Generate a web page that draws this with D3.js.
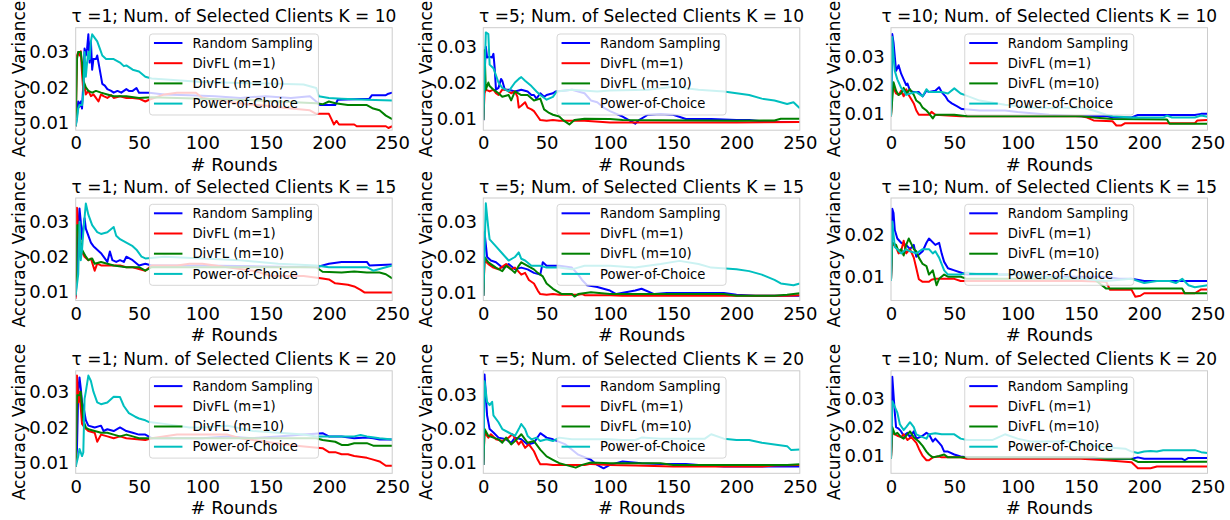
<!DOCTYPE html>
<html><head><meta charset="utf-8">
<script src="https://cdn.jsdelivr.net/npm/d3@7"></script>
<style>body{margin:0;background:#fff} text{font-family:"DejaVu Sans",sans-serif;fill:#000}</style>
</head><body><svg id="c" width="1230" height="520"></svg>
<script>
// ---------- labels ----------
const seriesNames = ["Random Sampling","DivFL (m=1)","DivFL (m=10)","Power-of-Choice"];
const taus = [1,5,10];
const ks = [10,15,20];
const xTicks = [0,50,100,150,200,250];
const yTicks = [0.01,0.02,0.03];
const xLabel = "# Rounds";
const yLabel = "Accuracy Variance";

// ---------- data: [round, accuracy variance] ----------
// tau=1, K=10
const t1k10_random = [[0,.009],[1,.012],[2,.016],[3,.0145],[4,.016],[5,.014],[6,.021],[7,.031],[8,.029],[9,.031],[10,.035],[11,.027],[12,.033],[13,.025],[14,.028],[16,.028],[17,.029],[19,.025],[21,.021],[23,.0205],[25,.0195],[28,.019],[30,.0185],[33,.019],[36,.0185],[40,.0195],[42,.019],[45,.019],[48,.0198],[50,.0185],[58,.0185],[70,.018],[90,.0178],[110,.0175],[130,.017],[150,.0175],[170,.017],[185,.0175],[190,.016],[193,.015],[205,.015],[207,.0165],[232,.0168],[234,.0178],[245,.0178],[247,.0182],[250,.0185]];
const t1k10_divfl1 = [[0,.009],[1,.029],[2,.030],[3,.029],[4,.0302],[5,.024],[6,.019],[7,.0205],[8,.018],[10,.019],[12,.0175],[14,.018],[16,.017],[18,.016],[20,.018],[22,.0175],[25,.017],[28,.0178],[30,.017],[35,.0175],[40,.017],[45,.017],[50,.0168],[55,.016],[58,.0165],[70,.018],[80,.0185],[95,.0185],[100,.017],[120,.016],[135,.0152],[150,.0148],[170,.014],[185,.0135],[190,.0125],[200,.0125],[202,.011],[204,.0095],[206,.0105],[208,.0095],[220,.0095],[222,.009],[245,.009],[247,.0085],[250,.009]];
const t1k10_divfl10 = [[0,.009],[1,.028],[2,.030],[4,.030],[5,.027],[6,.022],[7,.021],[8,.020],[10,.019],[13,.0185],[16,.019],[20,.0185],[25,.018],[30,.0175],[40,.0175],[50,.017],[60,.0172],[80,.017],[100,.0168],[130,.0165],[160,.016],[190,.0155],[195,.0152],[200,.016],[205,.0155],[215,.015],[230,.015],[235,.014],[240,.0135],[245,.012],[250,.011]];
const t1k10_poc = [[0,.009],[1,.011],[2,.014],[3,.015],[5,.015],[6,.018],[7,.030],[8,.023],[9,.027],[10,.030],[11,.028],[12,.033],[13,.035],[15,.034],[17,.033],[19,.031],[21,.029],[24,.028],[30,.028],[35,.027],[38,.026],[40,.0262],[45,.025],[50,.0245],[55,.023],[60,.0225],[80,.022],[100,.0215],[130,.0212],[160,.021],[180,.0208],[190,.0198],[192,.0175],[200,.017],[210,.0168],[230,.0165],[250,.0163]];
// tau=5, K=10
const t5k10_random = [[0,.0095],[1,.022],[2,.030],[3,.027],[5,.0272],[7,.027],[8,.028],[9,.024],[10,.018],[12,.0185],[14,.021],[15,.0205],[17,.018],[20,.018],[25,.0175],[30,.018],[35,.0175],[38,.0165],[40,.0165],[42,.0155],[45,.017],[48,.016],[50,.0165],[55,.017],[57,.0175],[65,.0178],[70,.018],[80,.017],[85,.015],[90,.0145],[95,.013],[100,.012],[110,.0105],[120,.0085],[123,.0095],[130,.011],[140,.0112],[150,.011],[160,.0098],[180,.0098],[200,.0095],[210,.0095],[225,.009],[250,.009]];
const t5k10_divfl1 = [[0,.0095],[1,.017],[2,.018],[5,.0175],[8,.018],[10,.017],[12,.0165],[15,.018],[18,.018],[22,.017],[25,.0175],[27,.016],[28,.013],[30,.0135],[33,.0145],[35,.013],[38,.0125],[40,.012],[43,.0105],[45,.0095],[50,.0093],[55,.0095],[60,.0093],[80,.0093],[100,.0088],[150,.0088],[200,.0088],[250,.009]];
const t5k10_divfl10 = [[0,.0095],[1,.029],[2,.018],[4,.020],[5,.019],[8,.018],[12,.017],[15,.016],[20,.0165],[22,.015],[25,.0175],[30,.0165],[35,.0165],[40,.015],[45,.0155],[48,.0125],[52,.0115],[55,.011],[60,.0105],[63,.0095],[68,.0083],[72,.0095],[80,.0099],[100,.0098],[110,.0095],[200,.0093],[230,.0094],[235,.0099],[250,.0099]];
const t5k10_poc = [[0,.0095],[2,.034],[4,.0335],[5,.025],[8,.024],[10,.022],[12,.020],[15,.0185],[20,.0175],[25,.020],[28,.021],[30,.0215],[33,.0205],[38,.019],[42,.0175],[45,.0165],[50,.0152],[55,.016],[58,.0175],[70,.018],[90,.0175],[100,.0178],[130,.018],[150,.0188],[170,.018],[190,.0175],[200,.017],[210,.0165],[220,.0155],[230,.015],[240,.014],[245,.0145],[250,.0128]];
// tau=10, K=10
const t10k10_random = [[0,.009],[1,.038],[2,.035],[3,.030],[4,.025],[6,.027],[8,.024],[10,.022],[12,.020],[13,.0205],[15,.018],[18,.0175],[22,.0175],[25,.016],[28,.018],[30,.0175],[35,.018],[38,.0192],[40,.0175],[43,.016],[45,.0145],[48,.0135],[52,.0125],[56,.0115],[70,.011],[90,.011],[100,.0105],[125,.0095],[150,.009],[170,.009],[175,.0085],[190,.0085],[195,.0094],[240,.0094],[245,.0098],[250,.0098]];
const t10k10_divfl1 = [[0,.009],[1,.018],[2,.019],[4,.017],[6,.0165],[8,.018],[10,.016],[12,.0185],[14,.0165],[16,.015],[18,.0135],[20,.011],[22,.0095],[30,.0095],[32,.0105],[35,.0095],[55,.009],[150,.009],[155,.0085],[160,.0075],[175,.0072],[178,.0057],[182,.0057],[185,.0065],[240,.0065],[242,.0075],[250,.0076]];
const t10k10_divfl10 = [[0,.009],[2,.021],[4,.018],[6,.0165],[8,.017],[10,.019],[12,.017],[15,.0185],[18,.0165],[20,.0145],[23,.0135],[25,.012],[28,.011],[30,.010],[33,.0082],[35,.0095],[50,.0095],[60,.009],[150,.009],[160,.0085],[175,.008],[218,.0078],[220,.0063],[250,.0063]];
const t10k10_poc = [[0,.009],[1,.037],[2,.030],[3,.025],[5,.022],[8,.019],[10,.018],[12,.0165],[15,.017],[20,.0175],[25,.016],[28,.0185],[30,.0175],[40,.0175],[45,.017],[50,.0188],[55,.017],[58,.0165],[70,.0145],[90,.013],[110,.012],[150,.012],[160,.011],[170,.0095],[175,.009],[190,.0085],[215,.0085],[218,.0092],[222,.0085],[240,.0085],[245,.0092],[250,.0088]];
// tau=1, K=15
const t1k15_random = [[0,.0085],[1,.016],[2,.028],[3,.0338],[4,.030],[5,.025],[7,.031],[8,.028],[10,.026],[12,.024],[14,.023],[17,.022],[20,.021],[22,.020],[25,.0185],[27,.0215],[29,.019],[32,.0185],[35,.019],[38,.0185],[40,.020],[45,.019],[50,.0175],[55,.018],[60,.0175],[100,.0175],[150,.0172],[190,.017],[200,.018],[210,.0185],[230,.0185],[232,.0175],[250,.0178]];
const t1k15_divfl1 = [[0,.008],[1,.034],[2,.027],[4,.022],[7,.020],[10,.019],[12,.0195],[15,.016],[17,.018],[20,.0175],[30,.0175],[35,.0175],[40,.017],[45,.017],[50,.0165],[55,.016],[60,.0175],[80,.0175],[90,.018],[100,.018],[120,.017],[140,.016],[155,.0145],[180,.0145],[195,.0138],[200,.0135],[205,.0124],[215,.012],[220,.0115],[225,.0105],[228,.0098],[250,.0098]];
const t1k15_divfl10 = [[0,.009],[1,.029],[2,.029],[4,.024],[5,.022],[8,.020],[10,.019],[13,.0195],[15,.018],[20,.0185],[25,.018],[30,.0175],[40,.017],[50,.017],[55,.016],[60,.017],[190,.017],[195,.0157],[210,.0155],[220,.0158],[230,.0155],[240,.0155],[245,.015],[250,.0138]];
const t1k15_poc = [[0,.009],[2,.015],[3,.030],[4,.019],[5,.022],[6,.027],[8,.0352],[10,.032],[13,.029],[17,.027],[20,.0265],[25,.027],[30,.0285],[32,.026],[35,.025],[40,.024],[45,.023],[48,.022],[52,.020],[55,.0195],[70,.020],[100,.0195],[130,.019],[160,.018],[190,.0175],[200,.017],[230,.017],[235,.016],[245,.017],[250,.0175]];
// tau=5, K=15
const t5k15_random = [[0,.009],[1,.027],[3,.020],[6,.019],[10,.0185],[15,.017],[20,.018],[25,.0165],[30,.017],[35,.0165],[40,.0155],[45,.015],[47,.0185],[50,.0175],[60,.0175],[70,.017],[75,.015],[78,.0135],[82,.012],[90,.0115],[100,.0105],[105,.0095],[120,.0105],[125,.011],[135,.0095],[145,.0098],[190,.0098],[200,.0093],[215,.009],[250,.009]];
const t5k15_divfl1 = [[0,.009],[1,.019],[4,.018],[8,.017],[12,.0165],[18,.018],[22,.0165],[25,.017],[30,.015],[33,.0155],[36,.0135],[40,.0125],[43,.0105],[45,.0095],[50,.0093],[55,.0095],[60,.0093],[75,.0093],[78,.0095],[80,.0092],[100,.0092],[110,.009],[240,.009],[250,.0092]];
const t5k15_divfl10 = [[0,.009],[1,.020],[4,.0185],[6,.018],[10,.017],[15,.016],[18,.0175],[22,.0165],[25,.0155],[28,.0175],[30,.0185],[35,.0175],[40,.0165],[43,.0155],[47,.0145],[50,.0125],[55,.011],[62,.0095],[70,.0095],[72,.0088],[75,.0095],[85,.010],[100,.0095],[190,.0095],[200,.009],[230,.009],[240,.0093],[250,.0097]];
const t5k15_poc = [[0,.009],[2,.0352],[4,.028],[5,.025],[10,.023],[15,.021],[20,.019],[25,.020],[28,.0213],[30,.0195],[33,.019],[38,.0175],[45,.0175],[50,.017],[60,.017],[70,.0165],[80,.0175],[100,.0175],[120,.017],[140,.018],[155,.0189],[170,.018],[180,.017],[200,.0165],[210,.016],[220,.015],[230,.0135],[235,.0125],[245,.012],[250,.0125]];
// tau=10, K=15
const t10k15_random = [[0,.009],[1,.026],[2,.025],[3,.021],[5,.019],[8,.018],[12,.0175],[15,.0165],[18,.0175],[20,.0147],[25,.016],[28,.018],[30,.019],[35,.0175],[38,.018],[40,.0155],[42,.0135],[45,.012],[50,.0115],[55,.011],[60,.0105],[100,.0105],[120,.010],[170,.010],[180,.0095],[190,.0095],[200,.009],[250,.009]];
const t10k15_divfl1 = [[0,.009],[1,.018],[4,.017],[6,.0155],[8,.016],[10,.0185],[12,.0155],[15,.0165],[18,.0145],[20,.012],[22,.0094],[25,.0088],[30,.0088],[32,.0093],[35,.0095],[50,.0095],[55,.009],[150,.009],[170,.0088],[173,.0069],[190,.0069],[193,.0053],[197,.0055],[200,.0061],[240,.0061],[245,.007],[250,.007]];
const t10k15_divfl10 = [[0,.009],[1,.018],[4,.0175],[6,.016],[8,.0165],[10,.015],[12,.0175],[14,.019],[18,.0165],[20,.016],[22,.0145],[25,.013],[28,.0125],[30,.0105],[33,.0115],[36,.008],[38,.0095],[42,.0105],[45,.010],[55,.010],[60,.0095],[160,.0095],[170,.0072],[230,.0072],[232,.0061],[250,.0061]];
const t10k15_poc = [[0,.009],[1,.023],[3,.017],[5,.0165],[8,.0155],[12,.0165],[15,.016],[20,.0155],[25,.0165],[30,.0165],[33,.0155],[35,.016],[38,.0145],[42,.0115],[45,.0105],[55,.0105],[60,.011],[70,.0105],[100,.0105],[120,.010],[150,.0095],[170,.009],[190,.0095],[200,.0085],[210,.009],[220,.009],[225,.0085],[230,.0095],[235,.008],[240,.0075],[250,.008]];
// tau=1, K=20
const t1k20_random = [[0,.009],[1,.014],[2,.030],[3,.034],[4,.031],[5,.027],[6,.026],[8,.022],[10,.0205],[15,.020],[20,.0205],[22,.019],[25,.0195],[30,.019],[35,.020],[40,.019],[45,.0185],[50,.018],[55,.018],[60,.017],[100,.017],[120,.0175],[140,.017],[160,.0175],[180,.018],[195,.0184],[200,.0175],[210,.0175],[220,.017],[230,.0172],[235,.017],[240,.0166],[250,.0166]];
const t1k20_divfl1 = [[0,.009],[1,.0345],[2,.027],[3,.030],[5,.021],[7,.020],[10,.019],[15,.0185],[17,.016],[20,.018],[25,.0175],[30,.017],[35,.0175],[40,.017],[55,.0165],[60,.017],[80,.018],[120,.018],[130,.017],[150,.016],[170,.015],[195,.0142],[200,.0131],[205,.0131],[210,.0125],[215,.0125],[220,.012],[230,.0115],[235,.011],[240,.0105],[245,.0093],[250,.0093]];
const t1k20_divfl10 = [[0,.009],[1,.029],[3,.029],[4,.030],[6,.022],[8,.020],[10,.0195],[15,.019],[20,.0185],[25,.0185],[30,.018],[35,.0175],[40,.018],[45,.0175],[50,.017],[55,.017],[60,.017],[190,.017],[195,.0165],[205,.016],[210,.0151],[215,.0151],[220,.0156],[230,.0156],[235,.0149],[250,.0149]];
const t1k20_poc = [[0,.009],[2,.012],[3,.014],[5,.012],[6,.013],[7,.028],[8,.030],[10,.0345],[12,.033],[14,.030],[17,.027],[20,.0265],[25,.027],[30,.0286],[35,.0285],[38,.026],[42,.024],[47,.023],[50,.0225],[55,.022],[58,.0215],[70,.021],[90,.020],[100,.020],[120,.0205],[140,.019],[160,.0185],[180,.018],[190,.0175],[220,.0175],[225,.0179],[230,.0175],[240,.017],[250,.0166]];
// tau=5, K=20
const t5k20_random = [[0,.0095],[1,.036],[3,.024],[5,.020],[8,.019],[12,.0175],[18,.017],[22,.016],[25,.0175],[30,.017],[35,.0155],[40,.016],[45,.0188],[50,.0175],[55,.017],[65,.0155],[75,.0125],[85,.011],[90,.0095],[95,.0085],[100,.0095],[110,.0105],[125,.010],[140,.0098],[160,.0098],[170,.0095],[190,.009],[250,.009]];
const t5k20_divfl1 = [[0,.0095],[1,.019],[4,.0175],[6,.0185],[10,.017],[15,.0165],[20,.0175],[23,.0185],[28,.0155],[30,.0165],[33,.0145],[36,.0155],[40,.0135],[43,.011],[45,.0097],[50,.0097],[55,.0095],[80,.0095],[85,.0098],[100,.0095],[120,.0093],[150,.009],[220,.009],[230,.0093],[250,.0095]];
const t5k20_divfl10 = [[0,.0095],[1,.020],[4,.018],[8,.0175],[12,.017],[15,.016],[18,.0175],[22,.0155],[25,.0165],[30,.0185],[32,.0175],[35,.016],[40,.0165],[45,.014],[50,.012],[55,.011],[60,.010],[65,.0095],[73,.0087],[78,.0095],[85,.0102],[100,.010],[140,.010],[150,.0095],[220,.0095],[240,.0095],[250,.0097]];
const t5k20_poc = [[0,.0095],[1,.034],[3,.028],[5,.027],[7,.028],[8,.024],[12,.022],[15,.020],[20,.019],[25,.018],[28,.020],[30,.0215],[33,.020],[35,.018],[38,.017],[42,.0175],[45,.0165],[50,.017],[55,.0165],[60,.0175],[70,.017],[100,.017],[110,.0168],[120,.0168],[125,.0175],[140,.0172],[175,.0172],[180,.0185],[190,.0172],[200,.0168],[210,.0168],[220,.016],[230,.0155],[240,.015],[243,.0139],[250,.014]];
// tau=10, K=20
const t10k20_random = [[0,.009],[1,.0375],[3,.025],[4,.020],[6,.0195],[8,.0185],[10,.017],[13,.018],[15,.0165],[18,.0185],[20,.016],[25,.017],[28,.018],[30,.0175],[33,.015],[35,.016],[38,.0145],[40,.0135],[42,.0115],[45,.0115],[50,.0105],[55,.0098],[60,.0095],[150,.0095],[160,.009],[190,.009],[195,.0095],[200,.009],[230,.009],[232,.0085],[235,.0093],[250,.0093]];
const t10k20_divfl1 = [[0,.009],[1,.018],[5,.017],[8,.0165],[10,.0175],[13,.0155],[16,.0165],[20,.0145],[22,.0125],[25,.010],[28,.0085],[30,.0085],[33,.0095],[38,.0098],[40,.0095],[55,.0095],[60,.009],[150,.009],[170,.0085],[190,.0078],[195,.0057],[205,.0057],[210,.0063],[250,.0063]];
const t10k20_divfl10 = [[0,.009],[1,.020],[3,.0175],[5,.018],[8,.0165],[10,.016],[13,.0175],[15,.0185],[18,.0165],[22,.015],[25,.0135],[28,.0115],[30,.0105],[33,.0095],[38,.010],[42,.0105],[45,.0095],[55,.0095],[160,.0095],[170,.009],[190,.009],[195,.0079],[250,.008]];
const t10k20_poc = [[0,.009],[1,.029],[3,.027],[5,.025],[7,.021],[10,.019],[12,.020],[15,.0217],[18,.020],[20,.0175],[25,.0165],[28,.016],[30,.0175],[35,.0179],[40,.0175],[50,.0175],[55,.016],[60,.0155],[80,.0155],[90,.0175],[100,.016],[110,.015],[140,.015],[150,.014],[170,.013],[185,.0125],[190,.0115],[195,.011],[200,.0115],[205,.0117],[210,.0115],[215,.012],[240,.012],[245,.0113],[250,.011]];

// panels in reading order (rows: K, columns: tau)
const panelSeries = [
  [t1k10_random,t1k10_divfl1,t1k10_divfl10,t1k10_poc],
  [t5k10_random,t5k10_divfl1,t5k10_divfl10,t5k10_poc],
  [t10k10_random,t10k10_divfl1,t10k10_divfl10,t10k10_poc],
  [t1k15_random,t1k15_divfl1,t1k15_divfl10,t1k15_poc],
  [t5k15_random,t5k15_divfl1,t5k15_divfl10,t5k15_poc],
  [t10k15_random,t10k15_divfl1,t10k15_divfl10,t10k15_poc],
  [t1k20_random,t1k20_divfl1,t1k20_divfl10,t1k20_poc],
  [t5k20_random,t5k20_divfl1,t5k20_divfl10,t5k20_poc],
  [t10k20_random,t10k20_divfl1,t10k20_divfl10,t10k20_poc]
];

// ---------- layout / style ----------
const colors = ["#0000ff","#ff0000","#008000","#00bfbf"];
const colLeft = [75.7, 483.3, 891];
const plotW = 316.5;
const rowTop = [27.7, 198, 370.8];
const plotH = 102.5;
const yDomains = [
  [0.00788,0.03687],[0.00668,0.03531],[0.00403,0.04025],
  [0.00749,0.03677],[0.00768,0.03671],[0.00439,0.02856],
  [0.00718,0.03584],[0.00704,0.03709],[0.00397,0.03953]
];

const svg = d3.select("#c");
svg.append("rect").attr("width",1230).attr("height",520).attr("fill","#fff");

panelSeries.forEach((series, idx) => {
  const row = Math.floor(idx/3), col = idx%3;
  const L = colLeft[col], T = rowTop[row];
  const x = d3.scaleLinear().domain([0,250]).range([L, L+plotW]);
  const y = d3.scaleLinear().domain(yDomains[idx]).range([T+plotH, T]);
  const g = svg.append("g");

  const clipId = "clip"+idx;
  svg.append("clipPath").attr("id",clipId).append("rect")
    .attr("x",L).attr("y",T).attr("width",plotW).attr("height",plotH);

  // axes
  const xa = g.append("g").attr("transform",`translate(0,${T+plotH})`)
    .call(d3.axisBottom(x).tickValues(xTicks).tickSize(0).tickPadding(6.5).tickFormat(d3.format("d")));
  const ya = g.append("g").attr("transform",`translate(${L},0)`)
    .call(d3.axisLeft(y).tickValues(yTicks.filter(v=>v>=yDomains[idx][0]&&v<=yDomains[idx][1])).tickSize(0).tickPadding(6.4).tickFormat(d3.format(".2f")));
  [xa,ya].forEach(a=>{a.select(".domain").remove(); a.selectAll("text").attr("font-size",18).attr("font-family","DejaVu Sans");});

  // lines
  const line = d3.line().x(d=>x(d[0])).y(d=>y(d[1]));
  const lg = g.append("g").attr("clip-path",`url(#${clipId})`);
  series.forEach((s,i)=>{
    lg.append("path").datum(s).attr("d",line).attr("fill","none")
      .attr("stroke",colors[i]).attr("stroke-width",2).attr("stroke-linejoin","round");
  });

  // frame
  g.append("rect").attr("x",L).attr("y",T).attr("width",plotW).attr("height",plotH)
    .attr("fill","none").attr("stroke","#cccccc").attr("stroke-width",1);

  // legend
  const cx = L + plotW/2;
  const lx = cx - 84.5, ly = T + 6.3;
  g.append("rect").attr("x",lx).attr("y",ly).attr("width",169).attr("height",81).attr("rx",3)
    .attr("fill","#fff").attr("fill-opacity",0.8).attr("stroke","#cccccc").attr("stroke-opacity",0.8);
  seriesNames.forEach((n,i)=>{
    const yy = ly + 9 + i*20.2;
    g.append("line").attr("x1",lx+4.5).attr("x2",lx+33).attr("y1",yy).attr("y2",yy)
      .attr("stroke",colors[i]).attr("stroke-width",2);
    g.append("text").attr("x",lx+43).attr("y",yy).attr("dy","0.36em").attr("font-size",13.2).text(n);
  });

  // title
  g.append("text").attr("x",cx).attr("y",T-5.5).attr("text-anchor","middle").attr("font-size",17)
    .text(`τ =${taus[col]}; Num. of Selected Clients K = ${ks[row]}`);
  // x label
  g.append("text").attr("x",cx).attr("y",T+plotH+40.5).attr("text-anchor","middle").attr("font-size",18).text(xLabel);
  // y label
  g.append("text").attr("transform",`translate(${L-57},${T+plotH/2}) rotate(-90)`)
    .attr("text-anchor","middle").attr("dy","0.36em").attr("font-size",17).text(yLabel);
});
</script></body></html>
